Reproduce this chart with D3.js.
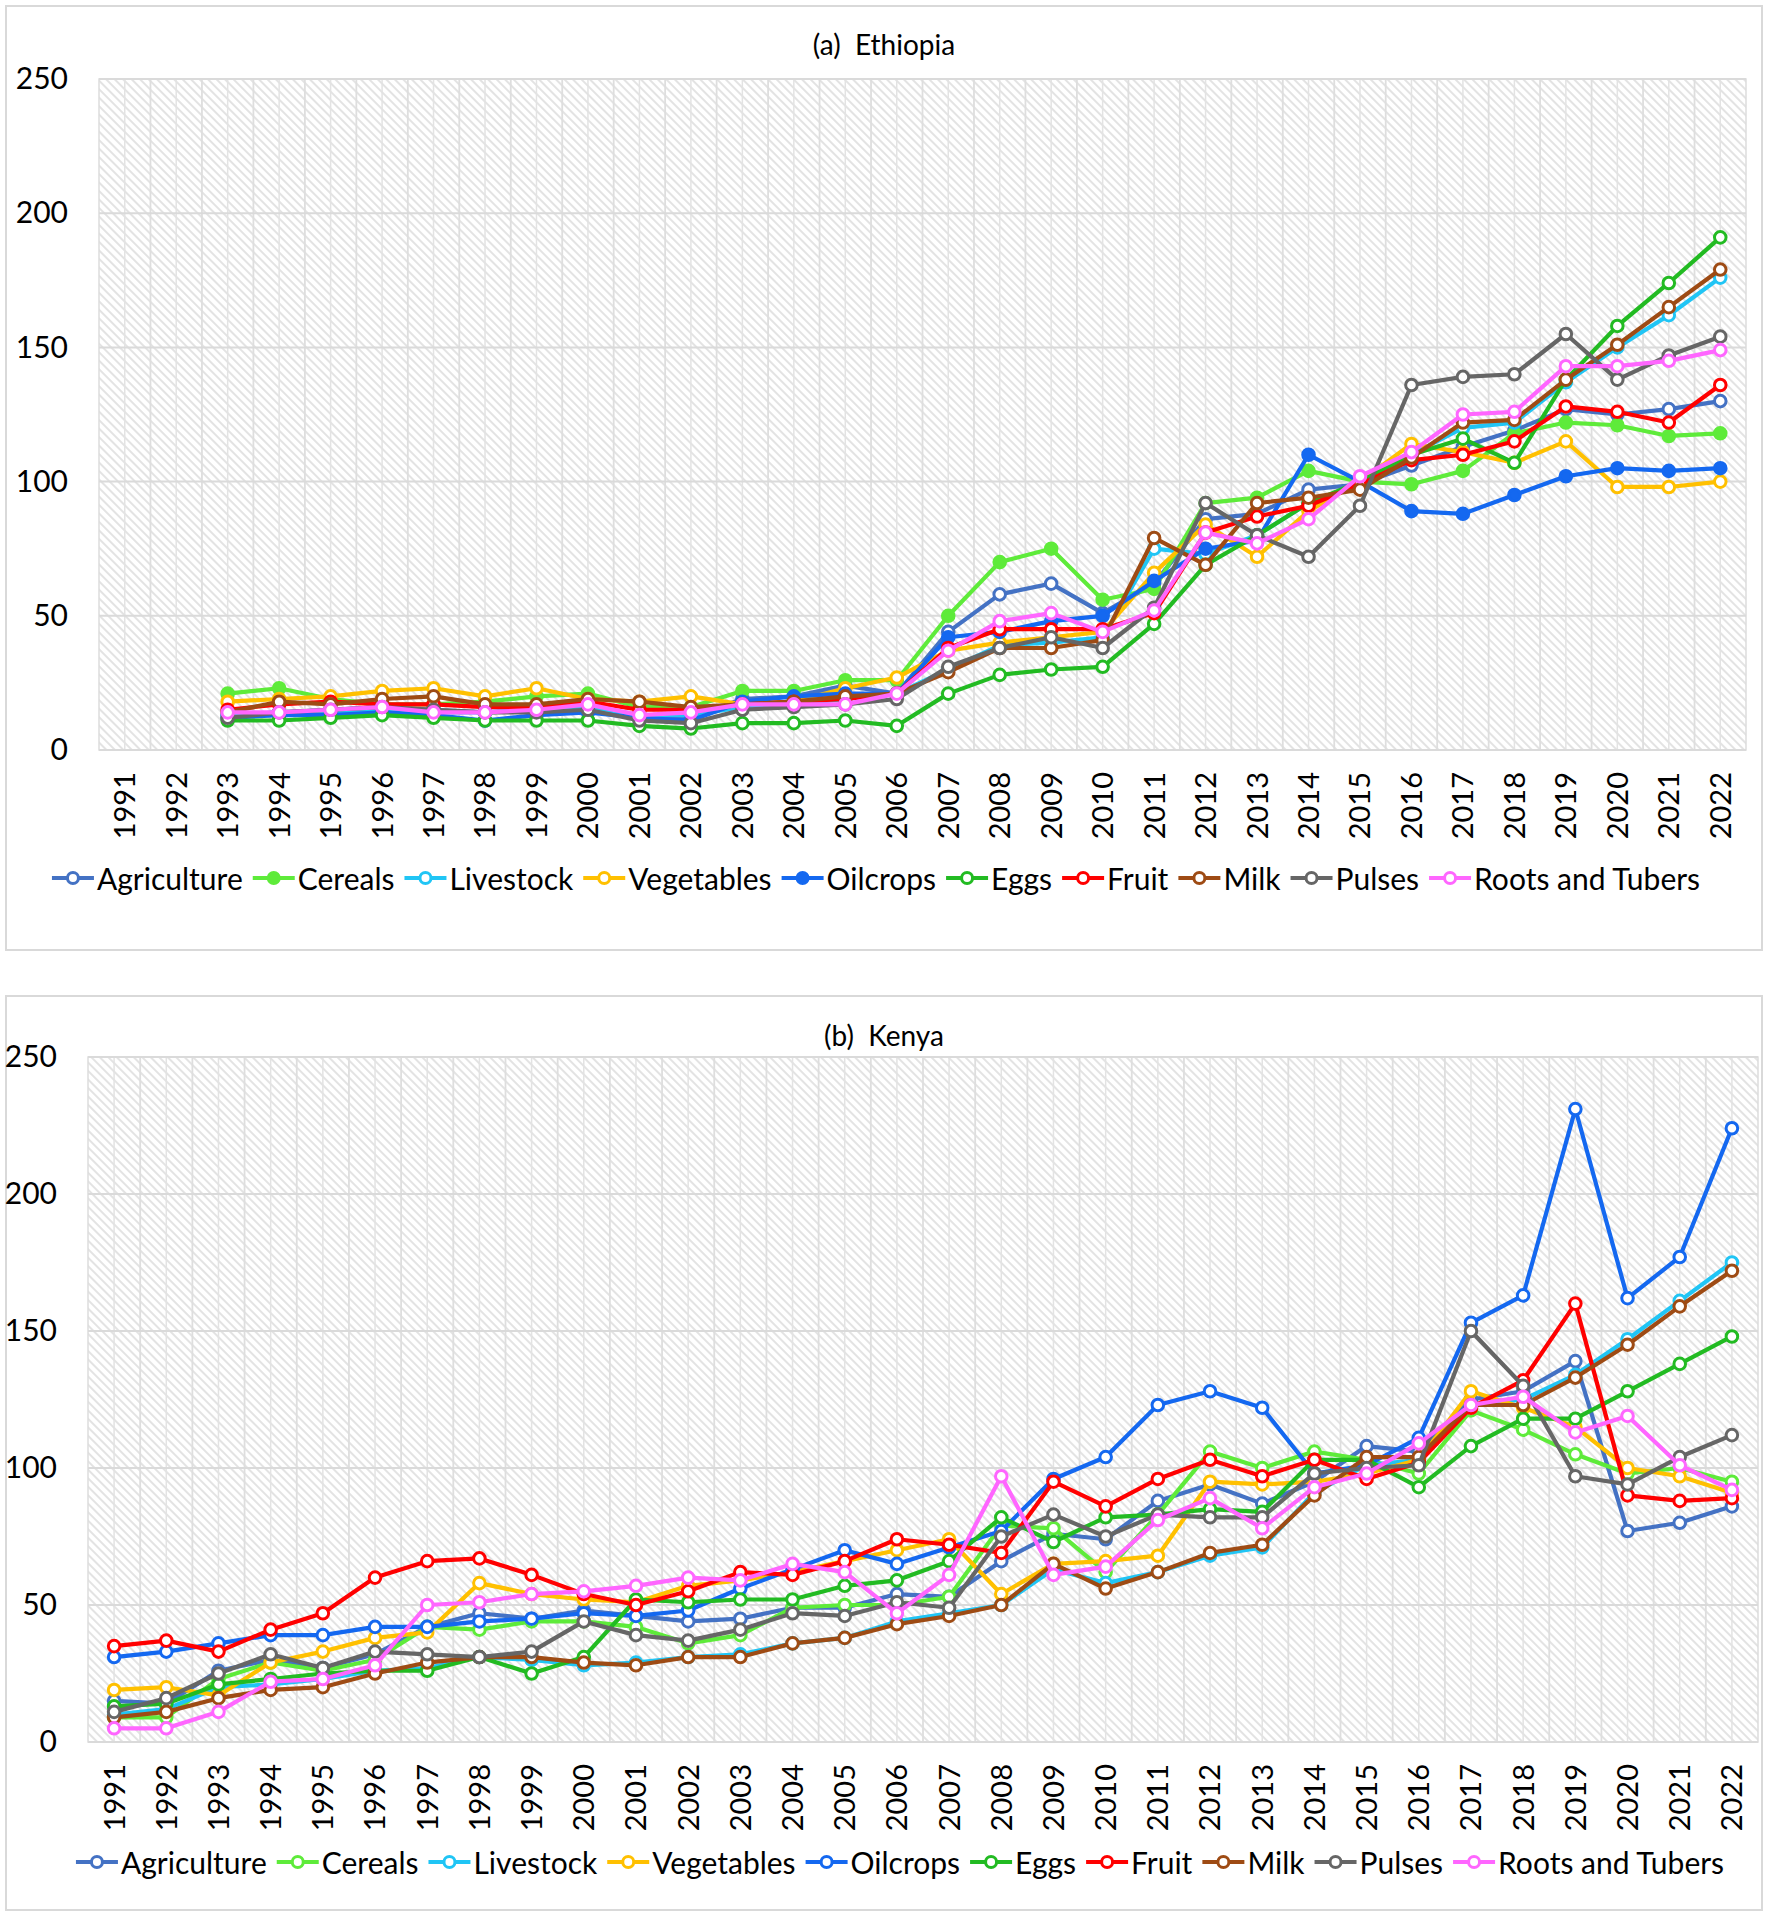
<!DOCTYPE html>
<html><head><meta charset="utf-8">
<script src="https://cdn.jsdelivr.net/npm/d3@7"></script>
<style>
body{margin:0;background:#fff}
svg{display:block}
text{font-family:Lato,"Open Sans","DejaVu Sans",sans-serif;fill:#000}
</style>
</head><body>
<svg id="c" width="1772" height="1919"></svg>
<script>
// ---------- DATA ----------
const years = ["1991","1992","1993","1994","1995","1996","1997","1998","1999","2000","2001","2002","2003","2004","2005","2006","2007","2008","2009","2010","2011","2012","2013","2014","2015","2016","2017","2018","2019","2020","2021","2022"];
const seriesNames = ["Agriculture","Cereals","Livestock","Vegetables","Oilcrops","Eggs","Fruit","Milk","Pulses","Roots and Tubers"];
const seriesColors = ["#4472C4","#5EEB3A","#20C5F5","#FFC000","#1468F0","#22BB22","#FF0000","#9E4B14","#666666","#FF66FF"];
const yTicks = [0,50,100,150,200,250];

// Ethiopia (no data 1991-1992)
const ethFilled = [false,true,false,false,true,false,false,false,false,false];
const ethAgriculture = [null,null,13,14,15,16,15,14,15,16,13,12,19,20,24,21,44,58,62,51,62,86,88,97,99,106,113,119,127,125,127,130];
const ethCereals     = [null,null,21,23,19,17,17,18,20,21,16,16,22,22,26,26,50,70,75,56,60,92,94,104,100,99,104,118,122,121,117,118];
const ethLivestock   = [null,null,13,14,14,15,14,14,15,16,13,13,16,17,19,21,30,39,40,42,75,73,80,92,99,110,120,122,137,150,162,176];
const ethVegetables  = [null,null,18,19,20,22,23,20,23,19,18,20,17,18,23,27,37,40,42,44,66,84,72,89,100,114,111,107,115,98,98,100];
const ethOilcrops    = [null,null,12,13,13,14,13,11,13,14,12,11,18,20,21,21,42,44,48,50,63,75,78,110,100,89,88,95,102,105,104,105];
const ethEggs        = [null,null,11,11,12,13,12,11,11,11,9,8,10,10,11,9,21,28,30,31,47,69,80,92,100,110,116,107,138,158,174,191];
const ethFruit       = [null,null,15,17,18,17,17,16,16,18,15,15,17,18,19,21,38,45,45,45,51,81,87,91,99,108,110,115,128,126,122,136];
const ethMilk        = [null,null,14,18,17,19,20,17,17,19,18,16,17,18,20,21,29,38,38,41,79,69,92,94,97,109,122,123,138,151,165,179];
const ethPulses      = [null,null,12,14,15,16,15,14,14,15,11,10,15,16,17,19,31,38,42,38,53,92,80,72,91,136,139,140,155,138,147,154];
const ethRoots       = [null,null,14,14,15,16,14,14,15,17,13,14,17,17,17,21,37,48,51,44,52,81,77,86,102,111,125,126,143,143,145,149];

// Kenya
const kenFilled = [false,false,false,false,false,false,false,false,false,false];
const kenAgriculture = [15,14,26,30,27,32,42,47,45,48,46,44,45,49,49,54,53,66,76,74,88,94,87,95,108,106,125,128,139,77,80,86];
const kenCereals     = [9,9,23,29,26,30,42,41,44,44,42,36,39,49,50,50,53,79,78,62,83,106,100,106,103,98,121,114,105,98,100,95];
const kenLivestock   = [10,12,20,21,23,26,27,31,30,28,29,31,32,36,38,44,47,50,63,58,62,68,71,91,101,103,123,125,134,147,161,175];
const kenVegetables  = [19,20,17,29,33,38,40,58,54,52,51,57,59,62,66,70,74,54,65,66,68,95,94,95,98,103,128,122,115,100,97,91];
const kenOilcrops    = [31,33,36,39,39,42,42,44,45,47,46,48,56,63,70,65,71,77,96,104,123,128,122,98,101,111,153,163,231,162,177,224];
const kenEggs        = [13,14,21,23,25,26,26,31,25,31,52,51,52,52,57,59,66,82,73,82,83,85,84,103,103,93,108,118,118,128,138,148];
const kenFruit       = [35,37,33,41,47,60,66,67,61,54,50,55,62,61,66,74,72,69,95,86,96,103,97,103,96,102,122,132,160,90,88,89];
const kenMilk        = [9,11,16,19,20,25,29,31,31,29,28,31,31,36,38,43,46,50,65,56,62,69,72,90,104,104,123,123,133,145,159,172];
const kenPulses      = [11,16,25,32,27,33,32,31,33,44,39,37,41,47,46,51,49,75,83,75,83,82,82,98,100,101,150,130,97,94,104,112];
const kenRoots       = [5,5,11,22,23,28,50,51,54,55,57,60,59,65,62,47,61,97,61,64,81,89,78,93,98,109,123,126,113,119,101,92];

// ---------- LAYOUT ----------
const panels = [
  {title:"(a)  Ethiopia", filled:ethFilled,
   data:[ethAgriculture,ethCereals,ethLivestock,ethVegetables,ethOilcrops,ethEggs,ethFruit,ethMilk,ethPulses,ethRoots],
   box:{x:6,y:6,w:1756,h:944}, plot:{l:99,r:1746,t:79,b:750}, titleY:44, legendY:878, legendCX:876},
  {title:"(b)  Kenya", filled:kenFilled,
   data:[kenAgriculture,kenCereals,kenLivestock,kenVegetables,kenOilcrops,kenEggs,kenFruit,kenMilk,kenPulses,kenRoots],
   box:{x:6,y:996,w:1756,h:914}, plot:{l:88,r:1758,t:1057,b:1742}, titleY:1035, legendY:1862, legendCX:900}
];

const svg = d3.select("#c");
const defs = svg.append("defs");
const pat = defs.append("pattern").attr("id","hatch").attr("width",6).attr("height",6)
  .attr("patternUnits","userSpaceOnUse").attr("patternTransform","rotate(-45)");
pat.append("rect").attr("width",6).attr("height",6).attr("fill","#fff");
pat.append("line").attr("x1",1).attr("y1",0).attr("x2",1).attr("y2",6).attr("stroke","#dcdcdc").attr("stroke-width",1.6);

svg.append("rect").attr("width",1772).attr("height",1919).attr("fill","#fff");

panels.forEach(p => {
  const g = svg.append("g");
  g.append("rect").attr("x",p.box.x).attr("y",p.box.y).attr("width",p.box.w).attr("height",p.box.h)
    .attr("fill","#fff").attr("stroke","#d9d9d9").attr("stroke-width",2);

  const x = d3.scaleBand().domain(years).range([p.plot.l,p.plot.r]);
  const y = d3.scaleLinear().domain([0,250]).range([p.plot.b,p.plot.t]);
  const bw = x.bandwidth();

  // plot background
  g.append("rect").attr("x",p.plot.l).attr("y",p.plot.t)
    .attr("width",p.plot.r-p.plot.l).attr("height",p.plot.b-p.plot.t)
    .attr("fill","url(#hatch)").attr("stroke","#dddddd").attr("stroke-width",1.5);

  // vertical gridlines (band boundaries and centres)
  const grid = g.append("g");
  years.forEach((yr,i) => {
    const xc = x(yr) + bw/2;
    grid.append("line").attr("x1",xc).attr("x2",xc).attr("y1",p.plot.t).attr("y2",p.plot.b)
      .attr("stroke","#e3e3e3").attr("stroke-width",1.5);
    if (i>0) {
      grid.append("line").attr("x1",x(yr)).attr("x2",x(yr)).attr("y1",p.plot.t).attr("y2",p.plot.b)
        .attr("stroke","#dedede").attr("stroke-width",1.8);
    }
  });
  yTicks.forEach(t => {
    grid.append("line").attr("x1",p.plot.l).attr("x2",p.plot.r).attr("y1",y(t)).attr("y2",y(t))
      .attr("stroke","#dadada").attr("stroke-width",2);
  });

  // title
  g.append("text").attr("x",884).attr("y",p.titleY).attr("text-anchor","middle")
    .attr("dominant-baseline","central").style("font-size","28px")
    .attr("xml:space","preserve").text(p.title);

  // y axis
  const ya = g.append("g").attr("transform",`translate(${p.plot.l},0)`)
    .call(d3.axisLeft(y).tickValues(yTicks).tickSize(0).tickPadding(31));
  ya.select(".domain").remove();
  ya.selectAll("text").style("font-size","30px").style("font-family","Lato,'Open Sans',sans-serif").attr("fill","#000");

  // x axis
  const xa = g.append("g").attr("transform",`translate(0,${p.plot.b})`)
    .call(d3.axisBottom(x).tickSize(0).tickPadding(0));
  xa.select(".domain").remove();
  xa.selectAll("text").attr("transform","rotate(-90)").attr("text-anchor","end")
    .attr("x",-22).attr("y",0).attr("dy","0.36em")
    .style("font-size","29px").style("font-family","Lato,'Open Sans',sans-serif").attr("fill","#000");

  // series
  const line = d3.line().defined(d => d.v !== null).x(d => x(d.yr) + bw/2).y(d => y(d.v));
  p.data.forEach((vals,si) => {
    const pts = vals.map((v,i) => ({yr:years[i], v:v}));
    const col = seriesColors[si];
    g.append("path").datum(pts).attr("d",line).attr("fill","none")
      .attr("stroke",col).attr("stroke-width",4.2).attr("stroke-linejoin","round").attr("stroke-linecap","round");
    g.append("g").selectAll("circle").data(pts.filter(d => d.v !== null)).join("circle")
      .attr("cx",d => x(d.yr) + bw/2).attr("cy",d => y(d.v)).attr("r",5.8)
      .attr("fill",p.filled[si] ? col : "#fff").attr("stroke",col).attr("stroke-width",3);
  });

  // legend
  const lg = g.append("g");
  const items = [];
  let cx = 0;
  seriesNames.forEach((nm,si) => {
    const it = lg.append("g");
    const col = seriesColors[si];
    it.append("line").attr("x1",0).attr("x2",42).attr("y1",0).attr("y2",0).attr("stroke",col).attr("stroke-width",4);
    it.append("circle").attr("cx",21).attr("cy",0).attr("r",5.5)
      .attr("fill",p.filled[si] ? col : "#fff").attr("stroke",col).attr("stroke-width",3);
    const t = it.append("text").attr("x",45).attr("y",0).attr("dominant-baseline","central")
      .style("font-size","30px").text(nm);
    const w = t.node().getComputedTextLength();
    items.push({it:it, x:cx});
    cx += 45 + w + 10;
  });
  const total = cx - 10;
  const start = p.legendCX - total/2;
  items.forEach(o => o.it.attr("transform",`translate(${start + o.x},${p.legendY})`));
});
</script>
</body></html>
